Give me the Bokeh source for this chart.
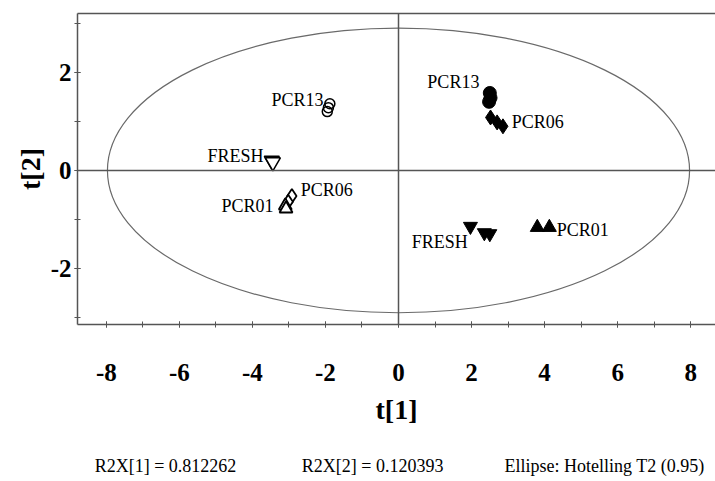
from bokeh.plotting import figure
from bokeh.models import (Range1d, SingleIntervalTicker, FixedTicker, LinearAxis, Span, Label,
                          PrintfTickFormatter)
from bokeh.embed import file_html
from bokeh.resources import INLINE

# ---- data (score values) ----
pcr13_open_x = [-1.88, -1.92, -1.95]
pcr13_open_y = [1.36, 1.28, 1.20]
fresh_open_x = [-3.47, -3.44]
fresh_open_y = [0.20, 0.17]
pcr06_open_x = [-2.92, -3.02]
pcr06_open_y = [-0.52, -0.64]
pcr01_open_x = [-3.10, -3.08]
pcr01_open_y = [-0.72, -0.78]

pcr13_fill_x = [2.50, 2.52, 2.48]
pcr13_fill_y = [1.58, 1.48, 1.40]
pcr06_fill_x = [2.52, 2.70, 2.86]
pcr06_fill_y = [1.08, 0.98, 0.90]
fresh_fill_x = [1.97, 2.35, 2.50]
fresh_fill_y = [-1.14, -1.27, -1.29]
pcr01_fill_x = [3.80, 4.13]
pcr01_fill_y = [-1.16, -1.16]

label_text = ["PCR13", "FRESH", "PCR06", "PCR01", "PCR13", "PCR06", "FRESH", "PCR01"]
label_x = [-3.48, -5.23, -2.68, -4.85, 0.79, 3.10, 0.36, 4.33]
label_y = [1.44, 0.29, -0.40, -0.72, 1.81, 0.98, -1.45, -1.21]

ellipse_a = 7.97   # semi-axis t[1]
ellipse_b = 2.90   # semi-axis t[2]

footer = ["R2X[1] = 0.812262", "R2X[2] = 0.120393", "Ellipse: Hotelling T2 (0.95)"]
footer_x = [-6.38, -0.71, 5.64]

SERIF = "Liberation Serif"
AX = "#555555"

p = figure(width=715, height=481, output_backend="svg", toolbar_location=None,
           x_range=Range1d(-8.79, 8.68), y_range=Range1d(-3.14, 3.20),
           min_border_left=77, min_border_right=0, min_border_top=13, min_border_bottom=157)
p.outline_line_color = None
p.grid.visible = False
p.background_fill_color = "white"
p.border_fill_color = "white"

xb = p.below[0]
yl = p.left[0]
for ax in (xb, yl):
    ax.ticker = SingleIntervalTicker(interval=2, num_minor_ticks=2)
    ax.formatter = PrintfTickFormatter(format="%d")
    ax.axis_line_color = AX
    ax.axis_line_width = 1.5
    ax.major_tick_line_color = AX
    ax.minor_tick_line_color = AX
    ax.major_tick_in = 3
    ax.major_tick_out = 3
    ax.minor_tick_in = 3
    ax.minor_tick_out = 3
    ax.major_label_text_font = SERIF
    ax.major_label_text_font_style = "bold"
    ax.major_label_text_font_size = "25px"
    ax.major_label_text_color = "black"
    ax.axis_label_text_font = SERIF
    ax.axis_label_text_font_style = "bold"
    ax.axis_label_text_font_size = "28px"
    ax.axis_label_text_color = "black"

xb.axis_label = "t[1]"
yl.axis_label = "t[2]"
xb.major_label_standoff = 36
xb.axis_label_standoff = 10
yl.major_label_standoff = 3
yl.axis_label_standoff = 2

# top frame line via an empty axis
top = LinearAxis(ticker=FixedTicker(ticks=[]), major_label_text_font_size="0px",
                 axis_line_color=AX, axis_line_width=1.5, major_tick_line_color=None,
                 minor_tick_line_color=None, major_tick_out=0, major_tick_in=0,
                 major_label_standoff=0, axis_label_standoff=0)
p.add_layout(top, "above")

# footer texts as an extra, line-less axis below
foot = LinearAxis(ticker=FixedTicker(ticks=footer_x),
                  major_label_overrides={x: t for x, t in zip(footer_x, footer)},
                  axis_line_color=None, major_tick_line_color=None, minor_tick_line_color=None,
                  major_tick_out=0, major_tick_in=0, major_label_standoff=28,
                  major_label_text_font=SERIF, major_label_text_font_size="18px",
                  major_label_text_color="black", major_label_text_font_style="normal")
p.add_layout(foot, "below")

p.add_layout(Span(location=0, dimension="width", line_color=AX, line_width=1.5))
p.add_layout(Span(location=0, dimension="height", line_color=AX, line_width=1.5))

p.ellipse(x=[0], y=[0], width=[2 * ellipse_a], height=[2 * ellipse_b],
          fill_color=None, line_color="#6a6a6a", line_width=1.2)

# open markers
p.scatter(pcr13_open_x, pcr13_open_y, marker="circle", size=10, fill_color=None,
          line_color="black", line_width=1.5)
p.scatter(fresh_open_x, fresh_open_y, marker="inverted_triangle", size=15, fill_color="white",
          line_color="black", line_width=1.5)
p.scatter(pcr06_open_x, pcr06_open_y, marker="diamond", size=14, fill_color="white",
          line_color="black", line_width=1.8)
p.scatter(pcr01_open_x, pcr01_open_y, marker="triangle", size=13, fill_color="white",
          line_color="black", line_width=1.8)

# filled markers
p.scatter(pcr13_fill_x, pcr13_fill_y, marker="circle", size=13, fill_color="black", line_color="black")
p.scatter(pcr06_fill_x, pcr06_fill_y, marker="diamond", size=15, fill_color="black", line_color="black")
p.scatter(fresh_fill_x, fresh_fill_y, marker="inverted_triangle", size=14, fill_color="black", line_color="black")
p.scatter(pcr01_fill_x, pcr01_fill_y, marker="triangle", size=14, fill_color="black", line_color="black")

for t, x, y in zip(label_text, label_x, label_y):
    p.add_layout(Label(x=x, y=y, text=t, text_font=SERIF, text_font_size="18px",
                       text_color="black", text_baseline="middle", text_align="left"))

open("out.html", "w").write(file_html(p, INLINE))
